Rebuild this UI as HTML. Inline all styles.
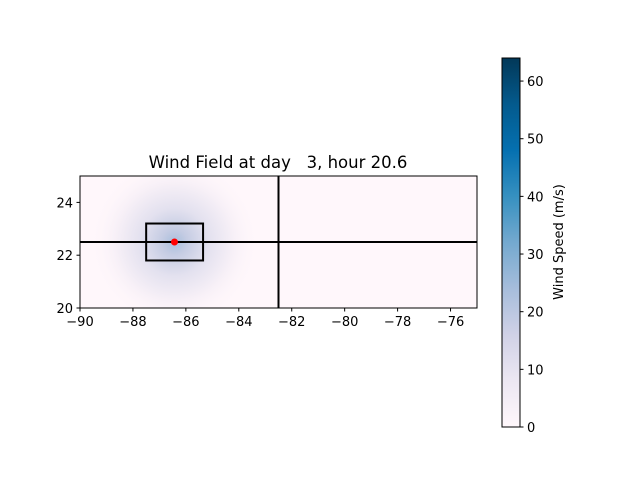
<!DOCTYPE html>
<html><head><meta charset="utf-8"><style>
body{margin:0;background:#fff;font-family:"Liberation Sans","DejaVu Sans",sans-serif;}
svg text{font-family:"DejaVu Sans","Liberation Sans",sans-serif;font-size:13px;fill:#000;}
</style></head><body>
<svg width="640" height="480">
<defs>
<radialGradient id="wind" cx="0.5" cy="0.5" r="0.5">
<stop offset="0" stop-color="#a9bfdc"/>
<stop offset="0.15" stop-color="#c5cce3"/>
<stop offset="0.4" stop-color="#e3e1ef"/>
<stop offset="0.7" stop-color="#f7f0f7"/>
<stop offset="1" stop-color="#fff7fb" stop-opacity="0"/>
</radialGradient>
<linearGradient id="cb" x1="0" y1="1" x2="0" y2="0">
<stop offset="0" stop-color="#fff7fb"/><stop offset="0.125" stop-color="#ece7f2"/>
<stop offset="0.25" stop-color="#d0d1e6"/><stop offset="0.375" stop-color="#a6bddb"/>
<stop offset="0.5" stop-color="#74a9cf"/><stop offset="0.625" stop-color="#3690c0"/>
<stop offset="0.75" stop-color="#0570b0"/><stop offset="0.875" stop-color="#045a8d"/>
<stop offset="1" stop-color="#023858"/>
</linearGradient>
<clipPath id="clip"><rect x="80" y="176" width="397" height="132"/></clipPath>
</defs>
<text x="278" y="168" text-anchor="middle" style="font-size:16.5px" xml:space="preserve">Wind Field at day   3, hour 20.6</text>
<g id="plot"></g>
<g id="cbar"></g>
<text transform="translate(563,242) rotate(-90)" text-anchor="middle" style="font-size:13px">Wind Speed (m/s)</text>
</svg>
<script>
const xTicks=[-90,-88,-86,-84,-82,-80,-78,-76];
const yTicks=[20,22,24];
const cbTicks=[0,10,20,30,40,50,60];
const center=[-86.43,22.5];
const box=[-87.5,-85.35,21.8,23.2];
const vLine=[-82.5];
const hLine=[22.5];
const radius=[3.2];
const cbMax=64;
const L=80,R=477,T=176,B=308;
const sx=v=>L+(v+90)/15*(R-L);
const sy=v=>B-(v-20)/5*(B-T);
const NS='http://www.w3.org/2000/svg';
function mk(p,t,a){const e=document.createElementNS(NS,t);for(const k in a)e.setAttribute(k,a[k]);p.appendChild(e);return e;}
const P=document.getElementById('plot');
let e=mk(P,'rect',{x:L,y:T,width:R-L,height:B-T,fill:'#fff7fb'});

const rx=radius[0]*(R-L)/15, ry=radius[0]*(B-T)/5;
e=mk(P,'ellipse',{cx:sx(center[0]),cy:sy(center[1]),rx:rx,ry:ry,fill:'url(#wind)','clip-path':'url(#clip)'});

e=mk(P,'line',{x1:L,x2:R,y1:sy(hLine[0]),y2:sy(hLine[0]),stroke:'#000','stroke-width':2});

e=mk(P,'line',{x1:sx(vLine[0]),x2:sx(vLine[0]),y1:T,y2:B,stroke:'#000','stroke-width':2});

e=mk(P,'rect',{x:sx(box[0]),y:sy(box[3]),width:sx(box[1])-sx(box[0]),height:sy(box[2])-sy(box[3]),fill:'none',stroke:'#000','stroke-width':2});

e=mk(P,'circle',{cx:sx(center[0]),cy:sy(center[1]),r:3.5,fill:'#ff0000'});

e=mk(P,'rect',{x:L,y:T,width:R-L,height:B-T,fill:'none',stroke:'#000','stroke-width':1});

xTicks.forEach(v=>{const x=sx(v);
 let t=mk(P,'line',{x1:x,x2:x,y1:B,y2:B+3.5,stroke:'#000'});
 
 t=mk(P,'text',{x:x,y:B+18,'text-anchor':'middle'});t.textContent=(v<0?'\u2212':'')+Math.abs(v);
 });
yTicks.forEach(v=>{const y=sy(v);
 let t=mk(P,'line',{x1:L-3.5,x2:L,y1:y,y2:y,stroke:'#000'});
 
 t=mk(P,'text',{x:L-7,y:y+5,'text-anchor':'end'});t.textContent=v;
 });
const C=document.getElementById('cbar');const cl=502,cr=520,ct=58,cbt=427;
e=mk(C,'rect',{x:cl,y:ct,width:cr-cl,height:cbt-ct,fill:'url(#cb)',stroke:'#000','stroke-width':1});

cbTicks.forEach(v=>{const y=cbt-v/cbMax*(cbt-ct);
 let t=mk(C,'line',{x1:cr,x2:cr+3.5,y1:y,y2:y,stroke:'#000'});
 
 t=mk(C,'text',{x:cr+7,y:y+5});t.textContent=v;
 });
</script>
</body></html>
